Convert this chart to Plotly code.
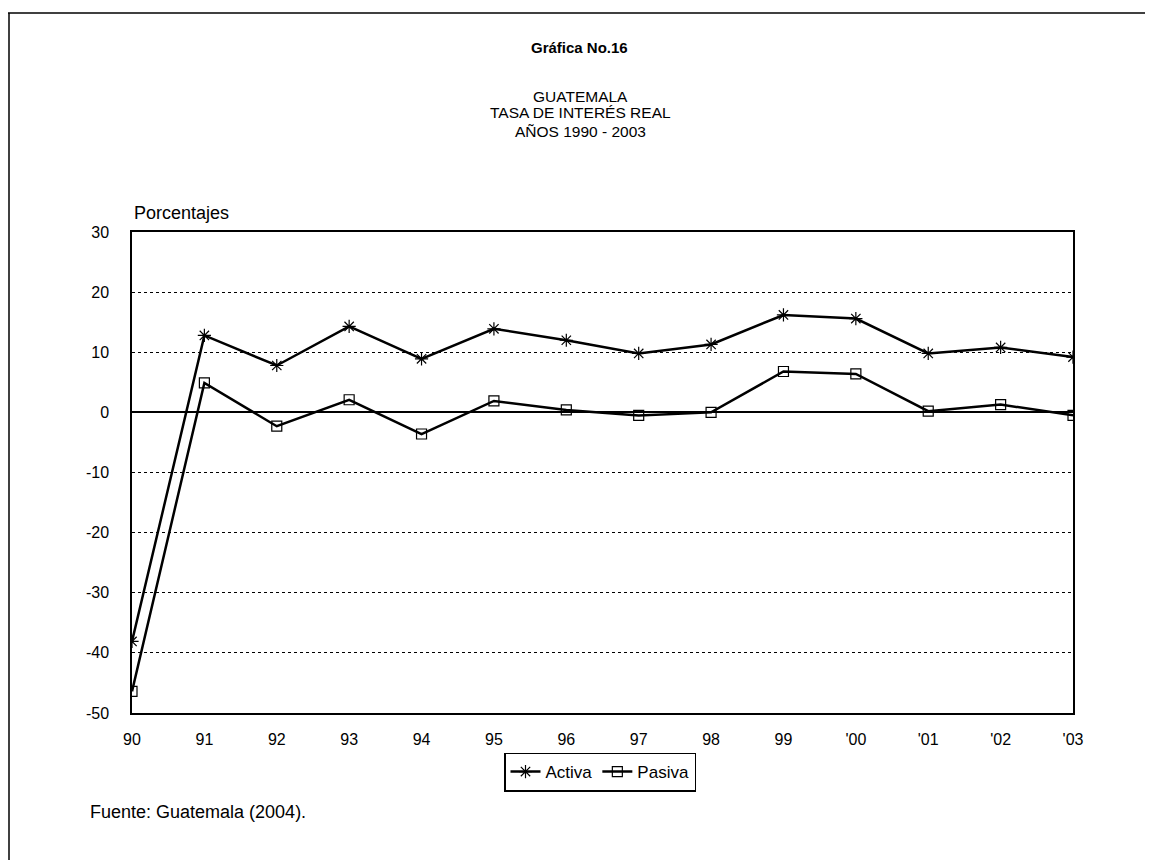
import plotly.graph_objects as go

years = ["90", "91", "92", "93", "94", "95", "96", "97", "98", "99", "'00", "'01", "'02", "'03"]
activa = [-38.1, 12.8, 7.8, 14.3, 8.9, 13.9, 12.0, 9.8, 11.3, 16.2, 15.6, 9.8, 10.8, 9.2]
pasiva = [-46.4, 4.9, -2.3, 2.1, -3.6, 1.9, 0.4, -0.5, 0.0, 6.8, 6.4, 0.2, 1.3, -0.5]
y_ticks = [-50, -40, -30, -20, -10, 0, 10, 20, 30]
y_tick_text = ["-50", "-40", "-30", "-20", "-10", "0", "10", "20", "30"]

FONT = "Liberation Sans, Arial, sans-serif"

# the page body has an 8px margin: figure coords = screen coords - 8
OFF = 8
W, H = 1153 - OFF, 860 - OFF
# plot area in screen pixels
L, R, T, B = 132, 1073, 232, 713
PW, PH = R - L, B - T


def px(x):
    return (x - L) / PW


def py(y):
    return (B - y) / PH


fig = go.Figure()
fig.add_trace(go.Scatter(
    x=years, y=activa, name="Activa", mode="lines+markers",
    line=dict(color="black", width=2.5),
    marker=dict(symbol="asterisk-open", size=11, color="black", line=dict(color="black", width=1.2)),
))
fig.add_trace(go.Scatter(
    x=years, y=pasiva, name="Pasiva", mode="lines+markers",
    line=dict(color="black", width=2.5),
    marker=dict(symbol="square-open", size=10, color="black", line=dict(color="black", width=1.2)),
))

fig.update_layout(
    width=W, height=H,
    margin=dict(l=L - OFF, r=(W + OFF) - R, t=T - OFF, b=(H + OFF) - B, pad=0),
    paper_bgcolor="white", plot_bgcolor="white",
    font=dict(family=FONT, color="black", size=16),
    showlegend=True,
    legend=dict(
        orientation="h", x=px(600), y=py(772), xanchor="center", yanchor="middle",
        bordercolor="black", borderwidth=1.5, bgcolor="white",
        font=dict(size=17, family=FONT, color="black"),
        itemwidth=30, tracegroupgap=0,
    ),
    xaxis=dict(
        type="category", range=[0, 13], showgrid=False,
        showline=True, linecolor="black", linewidth=1.5, mirror=True,
        ticks="", tickfont=dict(size=16), ticklabelstandoff=11,
    ),
    yaxis=dict(
        range=[-50, 30], tickvals=y_ticks, ticktext=y_tick_text, showgrid=True,
        gridcolor="black", gridwidth=1, griddash="dot",
        zeroline=True, zerolinecolor="black", zerolinewidth=1.5,
        showline=True, linecolor="black", linewidth=1.5, mirror=True,
        ticks="", tickfont=dict(size=16), ticklabelstandoff=18,
    ),
)

annotations = [
    dict(text="<b>Gráfica No.16</b>", x=px(579), y=py(47), size=15),
    dict(text="GUATEMALA", x=px(580), y=py(96), size=15.5),
    dict(text="TASA DE INTERÉS REAL", x=px(580), y=py(113), size=15.5),
    dict(text="AÑOS 1990 - 2003", x=px(580), y=py(131), size=15.5),
]
for a in annotations:
    fig.add_annotation(text=a["text"], x=a["x"], y=a["y"], xref="paper", yref="paper",
                       xanchor="center", yanchor="middle", showarrow=False,
                       font=dict(size=a["size"], family=FONT, color="black"))

fig.add_annotation(text="Porcentajes", x=px(132), y=py(213), xref="paper", yref="paper",
                   xanchor="left", yanchor="middle", showarrow=False,
                   font=dict(size=18, family=FONT, color="black"))
fig.add_annotation(text="Fuente: Guatemala (2004).", x=px(88), y=py(812), xref="paper", yref="paper",
                   xanchor="left", yanchor="middle", showarrow=False,
                   font=dict(size=18, family=FONT, color="black"))

# page frame (screen coords)
for x0, y0, x1, y1 in [(4, 13, 1150, 13), (9, 13, 9, 860), (1150, 13, 1150, 860)]:
    fig.add_shape(type="line", xref="paper", yref="paper",
                  x0=px(x0), y0=py(y0), x1=px(x1), y1=py(y1),
                  line=dict(color="black", width=1.5))

fig.write_html("out.html")
